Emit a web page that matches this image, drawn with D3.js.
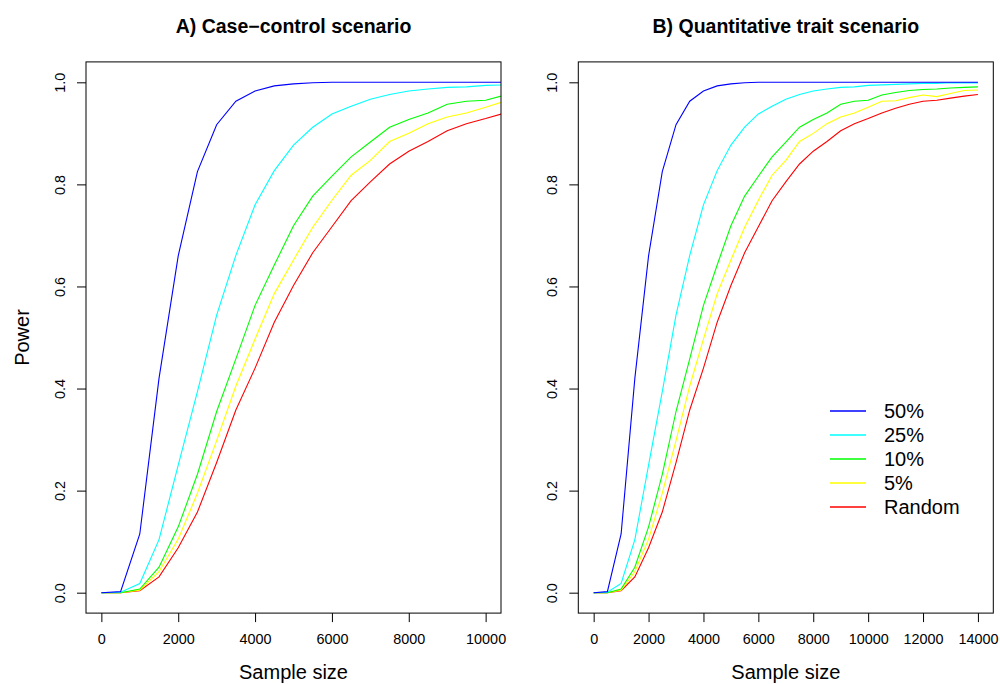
<!DOCTYPE html>
<html>
<head>
<meta charset="utf-8">
<script src="https://cdn.jsdelivr.net/npm/d3@7"></script>
<style>
  body { margin: 0; background: #fff; }
  text { font-family: "Liberation Sans", Arial, Helvetica, sans-serif; }
</style>
</head>
<body>
<div id="chart"></div>
<script>
// sample sizes (x values of every curve)
var sampleSizes = [0, 500, 1000, 1500, 2000, 2500, 3000, 3500, 4000, 4500,
                   5000, 5500, 6000, 6500, 7000, 7500, 8000, 8500, 9000, 9500,
                   10000, 10500, 11000, 11500, 12000, 12500, 13000, 13500, 14000];

// power per sample size (both panels give the same curves)
var power50 = [0, 0.002, 0.115, 0.42, 0.66, 0.825, 0.917, 0.963, 0.983, 0.993,
               0.997, 0.999, 1, 1, 1, 1, 1, 1, 1, 1,
               1, 1, 1, 1, 1, 1, 1, 1, 1];
var power25 = [0, 0.001, 0.018, 0.104, 0.25, 0.394, 0.544, 0.661, 0.76, 0.827,
               0.877, 0.912, 0.938, 0.953, 0.967, 0.976, 0.983, 0.987, 0.99, 0.991,
               0.994, 0.995, 0.996, 0.997, 0.998, 0.998, 0.999, 0.999, 0.999];
var power10 = [0, 0, 0.007, 0.05, 0.129, 0.232, 0.355, 0.458, 0.563, 0.642,
               0.719, 0.777, 0.816, 0.854, 0.883, 0.912, 0.927, 0.94, 0.957, 0.963,
               0.965, 0.975, 0.98, 0.984, 0.986, 0.987, 0.989, 0.99, 0.991];
var power5 = [0, 0, 0.005, 0.041, 0.105, 0.195, 0.298, 0.405, 0.497, 0.586,
              0.652, 0.716, 0.769, 0.818, 0.847, 0.884, 0.9, 0.919, 0.932, 0.94,
              0.951, 0.963, 0.964, 0.97, 0.975, 0.972, 0.978, 0.984, 0.985];
var powerRandom = [0, 0, 0.004, 0.031, 0.088, 0.158, 0.255, 0.358, 0.44, 0.53,
                   0.602, 0.666, 0.717, 0.768, 0.805, 0.84, 0.865, 0.884, 0.905, 0.919,
                   0.929, 0.94, 0.949, 0.957, 0.963, 0.965, 0.969, 0.973, 0.976];

var seriesNames = ["50%", "25%", "10%", "5%", "Random"];
var seriesColours = ["#0000ff", "#00ffff", "#00ff00", "#ffff00", "#ff0000"];
var seriesValues = [power50, power25, power10, power5, powerRandom];

var panelTitles = ["A) Case\u2212control scenario", "B) Quantitative trait scenario"];
var panelXMax = [10000, 14000];
var yTicks = [0, 0.2, 0.4, 0.6, 0.8, 1.0];

var width = 1000,
    height = 684,
    plotTop = 61.9,
    plotBottom = 613.1,
    panelLefts = [86, 578.3],
    panelWidth = 415;

var svg = d3.select("#chart")
  .append("svg")
  .attr("width", width)
  .attr("height", height);

panelTitles.forEach(function(title, p) {
  drawPanel(p);
});

function drawPanel(p) {
  var left = panelLefts[p],
      right = left + panelWidth,
      xmax = panelXMax[p],
      pad = xmax * 0.04;

  // R style axis range: 4% beyond the limits on each side
  var x = d3.scaleLinear().domain([-pad, xmax + pad]).range([left, right]);
  var y = d3.scaleLinear().domain([-0.04, 1.04]).range([plotBottom, plotTop]);

  var g = svg.append("g");

  g.append("clipPath")
    .attr("id", "clip" + p)
    .append("rect")
    .attr("x", left)
    .attr("y", plotTop)
    .attr("width", panelWidth)
    .attr("height", plotBottom - plotTop);

  var line = d3.line()
    .x(function(d, i) { return x(sampleSizes[i]); })
    .y(function(d) { return y(d); });

  // random first, 50% on top
  var order = [4, 3, 2, 1, 0];
  g.append("g")
    .attr("clip-path", "url(#clip" + p + ")")
    .selectAll(null)
    .data(order)
    .enter().append("path")
    .attr("fill", "none")
    .attr("stroke", function(k) { return seriesColours[k]; })
    .attr("stroke-width", 1.1)
    .attr("d", function(k) { return line(seriesValues[k]); });

  // box
  g.append("rect")
    .attr("x", left)
    .attr("y", plotTop)
    .attr("width", panelWidth)
    .attr("height", plotBottom - plotTop)
    .attr("fill", "none")
    .attr("stroke", "#000")
    .attr("stroke-width", 1);

  var xAxis = g.append("g")
    .attr("transform", "translate(0," + plotBottom + ")")
    .call(d3.axisBottom(x)
      .tickValues(d3.range(0, xmax + 1, 2000))
      .tickFormat(d3.format("d"))
      .tickSize(9)
      .tickPadding(12));
  xAxis.select(".domain").remove();
  xAxis.selectAll("line").attr("stroke", "#000");
  xAxis.selectAll("text")
    .attr("fill", "#000")
    .attr("font-size", "14.4px")
    .attr("font-family", "Liberation Sans, Arial, sans-serif");

  var yAxis = g.append("g")
    .attr("transform", "translate(" + left + ",0)")
    .call(d3.axisLeft(y)
      .tickValues(yTicks)
      .tickFormat(d3.format(".1f"))
      .tickSize(9));
  yAxis.select(".domain").remove();
  yAxis.selectAll("line").attr("stroke", "#000");
  yAxis.selectAll("text")
    .attr("fill", "#000")
    .attr("font-size", "14.4px")
    .attr("font-family", "Liberation Sans, Arial, sans-serif")
    .attr("text-anchor", "middle")
    .attr("transform", "rotate(-90)")
    .attr("x", 0)
    .attr("y", -21)
    .attr("dy", null);

  g.append("text")
    .attr("x", (left + right) / 2)
    .attr("y", 33)
    .attr("text-anchor", "middle")
    .attr("font-size", "19.5px")
    .attr("font-weight", "bold")
    .text(panelTitles[p]);

  g.append("text")
    .attr("x", (left + right) / 2)
    .attr("y", 679)
    .attr("text-anchor", "middle")
    .attr("font-size", "20px")
    .text("Sample size");

  if (p === 0) {
    g.append("text")
      .attr("transform", "translate(29," + ((plotTop + plotBottom) / 2) + ") rotate(-90)")
      .attr("text-anchor", "middle")
      .attr("font-size", "20px")
      .text("Power");
  } else {
    // legend, no box, top-left at roughly (830, 411)
    var legendItems = seriesNames.map(function(name, i) {
      return {name: name, colour: seriesColours[i], row: i};
    });
    var legend = g.append("g")
      .selectAll(null)
      .data(legendItems)
      .enter().append("g")
      .attr("transform", function(d) { return "translate(0," + (411 + d.row * 24) + ")"; });
    legend.append("path")
      .attr("d", "M830,0H866")
      .attr("fill", "none")
      .attr("stroke", function(d) { return d.colour; })
      .attr("stroke-width", 1.3);
    legend.append("text")
      .attr("x", 884)
      .attr("dy", "0.35em")
      .attr("font-size", "20px")
      .text(function(d) { return d.name; });
  }
}
</script>
</body>
</html>
